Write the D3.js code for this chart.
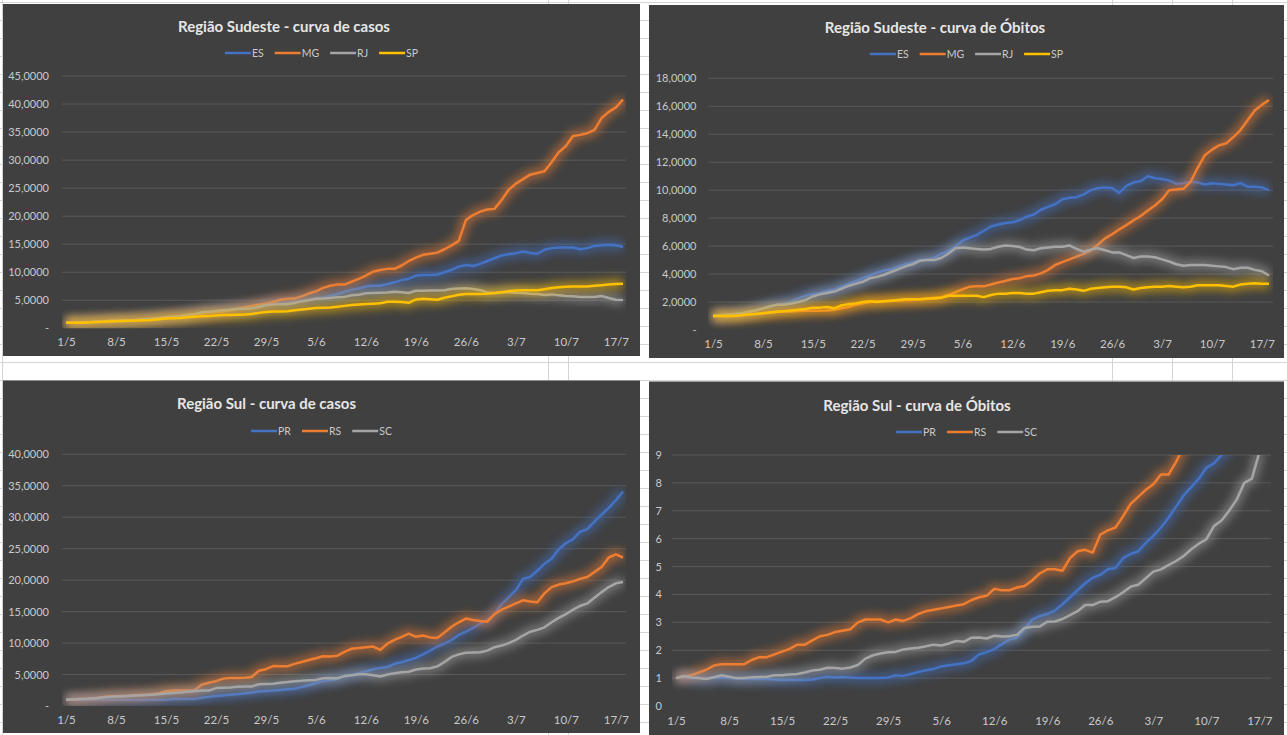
<!DOCTYPE html>
<html>
<head>
<meta charset="utf-8">
<title>Regiões Sudeste e Sul - curvas</title>
<script src="https://cdnjs.cloudflare.com/ajax/libs/d3/7.8.5/d3.min.js"></script>
<style>
  body { margin: 0; background: #ffffff; }
  svg { display: block; font-family: Lato, "Noto Sans", sans-serif; }
</style>
</head>
<body>
<svg id="sheet" width="1287" height="735"></svg>
<script>
// categories: one point per day, 1/5 to 18/7
const dayLabels = d3.timeDay.range(new Date(2020, 4, 1), new Date(2020, 6, 19))
  .map(d => `${d.getDate()}/${d.getMonth() + 1}`);
const xTickLabels = ["1/5", "8/5", "15/5", "22/5", "29/5", "5/6", "12/6", "19/6", "26/6", "3/7", "10/7", "17/7"];

const sudesteStates = ["ES", "MG", "RJ", "SP"];
const sulStates = ["PR", "RS", "SC"];

const sudesteCasosTicks = [0, 5, 10, 15, 20, 25, 30, 35, 40, 45];
const sudesteObitosTicks = [0, 2, 4, 6, 8, 10, 12, 14, 16, 18];
const sulCasosTicks = [0, 5, 10, 15, 20, 25, 30, 35, 40];
const sulObitosTicks = [0, 1, 2, 3, 4, 5, 6, 7, 8, 9];

// Região Sudeste - casos (índice relativo a 1/5)
const sudesteCasosES = [1.0,1.0,1.05,1.1,1.15,1.2,1.25,1.3,1.35,1.45,
  1.55,1.65,1.75,1.85,1.95,2.05,2.2,2.35,2.5,2.7,
  2.85,3.0,3.15,3.3,3.45,3.55,3.7,3.9,4.1,4.3,
  4.5,4.6,4.75,4.95,5.15,5.35,5.5,5.75,6.1,6.5,
  6.9,7.1,7.45,7.6,7.6,7.9,8.2,8.6,8.85,9.4,
  9.5,9.5,9.6,10.0,10.4,11.0,11.3,11.1,11.5,12.0,
  12.5,13.0,13.2,13.4,13.7,13.45,13.3,14.0,14.3,14.4,
  14.4,14.4,14.1,14.3,14.7,14.8,14.9,14.8,14.5];
const sudesteCasosMG = [1.0,1.0,1.05,1.1,1.15,1.2,1.3,1.35,1.4,1.45,
  1.5,1.6,1.7,1.8,1.95,2.1,2.2,2.3,2.45,2.6,
  2.8,2.9,3.0,3.2,3.5,3.7,4.0,4.2,4.4,4.7,
  5.1,5.25,5.3,5.7,6.2,6.6,7.2,7.6,7.8,7.8,
  8.3,8.8,9.4,10.1,10.4,10.6,10.6,11.2,12.0,12.6,
  13.1,13.3,13.5,14.1,14.8,15.6,19.3,20.2,20.8,21.2,
  21.3,22.9,24.7,25.8,26.6,27.4,27.7,28.0,29.6,31.4,
  32.5,34.3,34.5,34.8,35.4,37.5,38.6,39.4,40.8];
const sudesteCasosRJ = [1.0,1.0,1.05,1.1,1.15,1.2,1.3,1.35,1.4,1.45,
  1.5,1.6,1.7,1.85,1.95,2.05,2.15,2.4,2.5,2.85,
  2.95,3.1,3.2,3.3,3.45,3.5,3.55,3.8,4.15,4.25,
  4.3,4.3,4.5,4.8,5.0,5.25,5.3,5.4,5.55,5.6,
  5.9,6.0,6.25,6.3,6.35,6.4,6.5,6.45,6.3,6.7,
  6.7,6.75,6.75,6.8,7.0,7.1,7.15,7.0,6.8,6.4,
  6.3,6.4,6.45,6.35,6.3,6.15,6.1,5.95,6.05,5.9,
  5.75,5.7,5.6,5.6,5.6,5.75,5.4,5.1,5.05];
const sudesteCasosSP = [1.0,1.0,1.0,1.05,1.1,1.15,1.2,1.25,1.3,1.35,
  1.4,1.45,1.5,1.6,1.75,1.8,1.85,1.95,2.05,2.15,
  2.2,2.3,2.35,2.35,2.4,2.45,2.55,2.75,2.9,3.0,
  3.0,3.05,3.2,3.35,3.5,3.6,3.65,3.7,3.85,4.0,
  4.15,4.25,4.35,4.4,4.45,4.75,4.75,4.7,4.55,5.15,
  5.25,5.2,5.1,5.45,5.7,6.0,6.1,6.1,6.1,6.15,
  6.3,6.45,6.6,6.75,6.8,6.8,6.8,6.95,7.2,7.3,
  7.4,7.45,7.45,7.45,7.6,7.7,7.8,7.9,7.95];

// Região Sudeste - óbitos
const sudesteObitosES = [1.0,1.05,1.1,1.15,1.2,1.3,1.4,1.55,1.65,1.8,
  1.9,2.05,2.25,2.45,2.55,2.65,2.8,2.9,3.1,3.3,
  3.5,3.7,3.9,4.1,4.25,4.35,4.55,4.7,4.85,5.0,
  5.05,5.15,5.45,5.65,5.95,6.4,6.6,6.8,7.1,7.4,
  7.55,7.65,7.7,7.85,8.1,8.25,8.6,8.8,9.0,9.35,
  9.45,9.5,9.7,10.0,10.15,10.2,10.15,9.8,10.3,10.55,
  10.65,11.0,10.85,10.8,10.7,10.45,10.5,10.6,10.55,10.4,
  10.5,10.45,10.4,10.35,10.5,10.25,10.25,10.2,10.0];
const sudesteObitosMG = [1.0,1.0,0.98,1.0,1.05,1.1,1.15,1.2,1.25,1.3,
  1.3,1.33,1.35,1.38,1.38,1.38,1.4,1.45,1.55,1.65,
  1.8,1.9,2.0,2.05,2.05,2.1,2.1,2.12,2.15,2.18,
  2.22,2.3,2.35,2.5,2.7,2.9,3.1,3.12,3.12,3.25,
  3.4,3.5,3.65,3.7,3.85,3.9,4.05,4.3,4.65,4.85,
  5.05,5.25,5.45,5.7,6.1,6.55,6.85,7.2,7.5,7.85,
  8.15,8.55,8.9,9.35,10.0,10.05,10.1,10.6,11.6,12.5,
  12.9,13.2,13.35,13.8,14.3,15.0,15.7,16.1,16.45];
const sudesteObitosRJ = [1.0,1.05,1.1,1.15,1.2,1.3,1.4,1.55,1.7,1.8,
  1.8,1.9,2.0,2.15,2.4,2.55,2.65,2.75,2.95,3.15,
  3.3,3.45,3.7,3.8,3.95,4.15,4.35,4.55,4.7,4.95,
  5.0,5.0,5.15,5.45,5.85,5.9,5.85,5.8,5.75,5.8,
  5.95,6.05,6.0,5.95,5.75,5.7,5.85,5.9,5.95,5.95,
  6.05,5.8,5.6,5.75,5.85,5.7,5.55,5.55,5.35,5.15,
  5.25,5.25,5.2,5.05,4.9,4.7,4.6,4.65,4.65,4.65,
  4.6,4.55,4.5,4.35,4.45,4.45,4.3,4.2,3.9];
const sudesteObitosSP = [1.0,1.0,1.0,1.0,1.05,1.1,1.15,1.2,1.25,1.3,
  1.35,1.4,1.45,1.5,1.6,1.6,1.65,1.55,1.75,1.85,
  1.9,2.0,2.05,2.0,2.05,2.1,2.15,2.2,2.2,2.2,
  2.25,2.25,2.3,2.45,2.45,2.45,2.45,2.45,2.35,2.5,
  2.6,2.6,2.65,2.65,2.6,2.6,2.7,2.8,2.85,2.85,
  2.95,2.9,2.8,2.95,3.0,3.05,3.1,3.1,3.05,2.9,
  3.0,3.05,3.1,3.1,3.15,3.1,3.05,3.1,3.2,3.2,
  3.2,3.2,3.15,3.1,3.25,3.3,3.35,3.3,3.3];

// Região Sul - casos
const sulCasosPR = [1.0,1.0,1.0,1.0,1.0,1.0,1.0,1.0,1.0,1.0,
  0.95,0.95,1.0,1.0,1.0,1.1,1.1,1.1,1.1,1.3,
  1.45,1.6,1.65,1.8,1.85,2.0,2.15,2.3,2.4,2.45,
  2.55,2.65,2.75,3.0,3.3,3.65,3.95,4.1,4.3,4.7,
  4.95,5.2,5.5,5.85,6.05,6.2,6.7,6.95,7.3,7.65,
  8.2,8.8,9.45,9.9,10.5,11.3,11.8,12.4,13.1,13.6,
  14.6,16.2,17.3,18.4,20.2,20.5,21.5,22.6,23.4,24.9,
  25.9,26.5,27.7,28.1,29.3,30.4,31.5,32.7,34.1];
const sulCasosRS = [1.0,1.05,1.1,1.15,1.25,1.4,1.5,1.55,1.6,1.65,
  1.75,1.8,1.85,2.0,2.35,2.45,2.45,2.45,2.5,3.4,
  3.7,3.95,4.35,4.45,4.45,4.5,4.6,5.6,5.85,6.35,
  6.3,6.3,6.7,7.0,7.3,7.6,7.9,7.85,8.0,8.6,
  9.1,9.2,9.35,9.45,8.9,9.9,10.5,11.0,11.5,11.0,
  11.2,10.9,10.8,11.7,12.6,13.3,13.9,13.65,13.5,13.4,
  14.6,15.3,15.8,16.3,16.8,16.6,16.5,17.9,18.9,19.3,
  19.5,19.8,20.2,20.5,21.3,22.1,23.6,24.1,23.6];
const sulCasosSC = [1.0,1.05,1.1,1.15,1.25,1.35,1.45,1.5,1.55,1.6,
  1.65,1.7,1.8,1.85,2.0,2.05,2.15,2.25,2.35,2.45,
  2.45,2.85,2.9,2.95,3.05,3.1,3.1,3.45,3.5,3.55,
  3.7,3.8,3.95,4.0,4.1,4.15,4.4,4.45,4.4,4.75,
  4.9,5.05,5.05,4.9,4.7,5.0,5.2,5.35,5.45,5.8,
  5.95,6.0,6.3,7.0,7.8,8.2,8.45,8.5,8.55,8.8,
  9.35,9.6,10.0,10.5,11.2,11.8,12.1,12.5,13.3,14.0,
  14.6,15.3,15.9,16.3,17.2,18.1,18.9,19.5,19.7];

// Região Sul - óbitos (eixo vai só até 9; as séries param ao sair do gráfico)
const sulObitosPR = [1.0,1.0,1.0,1.0,1.0,1.0,1.02,1.0,0.98,0.98,
  0.97,0.97,0.97,0.95,0.93,0.93,0.93,0.93,0.95,1.0,
  1.05,1.02,1.04,1.02,1.0,1.0,1.0,1.0,1.02,1.1,
  1.08,1.15,1.22,1.28,1.33,1.42,1.46,1.5,1.53,1.62,
  1.85,1.93,2.04,2.22,2.38,2.45,2.75,3.1,3.23,3.3,
  3.42,3.65,3.9,4.15,4.4,4.6,4.7,4.9,4.95,5.3,
  5.45,5.55,5.85,6.1,6.4,6.75,7.15,7.55,7.85,8.15,
  8.55,8.7,9.0,9.2];
const sulObitosRS = [1.0,1.05,1.1,1.2,1.3,1.45,1.5,1.5,1.5,1.5,
  1.65,1.75,1.75,1.85,1.95,2.05,2.2,2.2,2.35,2.5,
  2.55,2.65,2.7,2.75,3.0,3.1,3.1,3.1,3.0,3.1,
  3.05,3.15,3.3,3.4,3.45,3.5,3.55,3.6,3.65,3.8,
  3.9,3.95,4.2,4.15,4.15,4.25,4.3,4.5,4.75,4.9,
  4.9,4.85,5.3,5.55,5.6,5.5,6.15,6.3,6.4,6.8,
  7.25,7.5,7.75,7.95,8.3,8.3,8.75,9.3];
const sulObitosSC = [1.0,1.08,1.02,1.0,0.97,1.03,1.1,1.05,1.0,1.0,
  1.03,1.04,1.05,1.1,1.1,1.13,1.15,1.2,1.27,1.3,
  1.37,1.36,1.34,1.38,1.47,1.7,1.82,1.88,1.93,1.94,
  2.03,2.06,2.09,2.14,2.2,2.17,2.24,2.33,2.3,2.45,
  2.46,2.42,2.52,2.49,2.5,2.55,2.8,2.84,2.85,3.02,
  3.03,3.12,3.26,3.4,3.62,3.62,3.74,3.76,3.9,4.08,
  4.28,4.35,4.58,4.82,4.9,5.05,5.2,5.38,5.62,5.82,
  5.98,6.45,6.65,7.0,7.4,8.0,8.15,9.1];

const stateColor = { ES: "#4472C4", MG: "#ED7D31", RJ: "#A5A5A5", SP: "#FFC000",
                     PR: "#4472C4", RS: "#ED7D31", SC: "#A5A5A5" };

const fmtDecimal = d => d === 0 ? "-" : d3.format(".4f")(d).replace(".", ",");
const fmtInt = d => String(d);

const charts = [
  { title: "Região Sudeste - curva de casos", box: [3, 4, 637, 352], titleX: 284, titleY: 32, legendY: 53,
    xRange: [66, 623], grid: [62, 626], yRange: [328.3, 76], ticks: sudesteCasosTicks,
    yLabelX: 49, anchor: "end", xLabelY: 342, fmt: fmtDecimal,
    names: sudesteStates, series: [sudesteCasosES, sudesteCasosMG, sudesteCasosRJ, sudesteCasosSP] },
  { title: "Região Sudeste - curva de Óbitos", box: [649, 5, 635, 353], titleX: 935, titleY: 33, legendY: 54,
    xRange: [713, 1269], grid: [708, 1273], yRange: [330, 78.3], ticks: sudesteObitosTicks,
    yLabelX: 696.5, anchor: "end", xLabelY: 343.5, fmt: fmtDecimal,
    names: sudesteStates, series: [sudesteObitosES, sudesteObitosMG, sudesteObitosRJ, sudesteObitosSP] },
  { title: "Região Sul - curva de casos", box: [3, 380.5, 637, 352.5], titleX: 266.5, titleY: 409, legendY: 431,
    xRange: [66, 623], grid: [62, 626], yRange: [706, 454.3], ticks: sulCasosTicks,
    yLabelX: 49, anchor: "end", xLabelY: 719.5, fmt: fmtDecimal,
    names: sulStates, series: [sulCasosPR, sulCasosRS, sulCasosSC] },
  { title: "Região Sul - curva de Óbitos", box: [649, 381.5, 635, 360], titleX: 917, titleY: 411, legendY: 432,
    xRange: [676, 1267], grid: [672, 1271], yRange: [706, 455], ticks: sulObitosTicks,
    yLabelX: 658.6, anchor: "middle", xLabelY: 721, fmt: fmtInt,
    names: sulStates, series: [sulObitosPR, sulObitosRS, sulObitosSC] }
];

const svg = d3.select("#sheet");
const W = 1287, H = 735;

// spreadsheet behind the charts
svg.append("rect").attr("width", W).attr("height", H).attr("fill", "#ffffff");
const sheet = svg.append("g").attr("stroke", "#d4d4d4").attr("stroke-width", 1);
d3.range(2, H, 18).forEach(y => sheet.append("line")
  .attr("x1", 0).attr("x2", W).attr("y1", y + 0.5).attr("y2", y + 0.5));
[2, 548, 568, 1112, 1172, 1232].forEach(x => sheet.append("line")
  .attr("x1", x + 0.5).attr("x2", x + 0.5).attr("y1", 0).attr("y2", H));

const defs = svg.append("defs");
defs.append("filter").attr("id", "glow")
  .attr("filterUnits", "userSpaceOnUse").attr("x", 0).attr("y", 0).attr("width", W).attr("height", H)
  .append("feGaussianBlur").attr("stdDeviation", 4);

charts.forEach((c, ci) => {
  const [bx, by, bw, bh] = c.box;
  const g = svg.append("g");
  g.append("rect").attr("x", bx).attr("y", by).attr("width", bw).attr("height", bh).attr("fill", "#404040");

  const x = d3.scalePoint().domain(dayLabels).range(c.xRange);
  const y = d3.scaleLinear().domain([0, d3.max(c.ticks)]).range(c.yRange);

  // gridlines
  g.append("g").selectAll("line").data(c.ticks.filter(t => t > 0)).join("line")
    .attr("x1", c.grid[0]).attr("x2", c.grid[1])
    .attr("y1", d => y(d)).attr("y2", d => y(d))
    .attr("stroke", "#595959").attr("stroke-width", 1);

  // y axis labels
  const ya = g.append("g").attr("transform", `translate(${c.yLabelX},0)`)
    .call(d3.axisLeft(y).tickValues(c.ticks).tickSize(0).tickPadding(0).tickFormat(c.fmt));
  ya.select(".domain").remove();
  ya.selectAll("text").attr("fill", "#c9c9c9").attr("font-size", 11)
    .attr("font-family", "Lato, sans-serif").attr("text-anchor", c.anchor);

  // x axis labels
  const xa = g.append("g").attr("transform", `translate(0,${c.xLabelY})`)
    .call(d3.axisBottom(x).tickValues(xTickLabels).tickSize(0).tickPadding(0));
  xa.select(".domain").remove();
  xa.selectAll("text").attr("y", 0).attr("dy", "0.35em").attr("fill", "#c9c9c9")
    .attr("font-size", 11.5).attr("font-family", "Lato, sans-serif");

  // title
  g.append("text").attr("x", c.titleX).attr("y", c.titleY).attr("text-anchor", "middle")
    .attr("font-size", 15).attr("font-weight", 700).attr("fill", "#e6e6e6").text(c.title);

  // legend, centred in the chart
  const lg = g.append("g");
  let lx = 0;
  c.names.forEach(n => {
    lg.append("line").attr("x1", lx).attr("x2", lx + 26).attr("y1", 0).attr("y2", 0)
      .attr("stroke", stateColor[n]).attr("stroke-width", 2.5);
    const t = lg.append("text").attr("x", lx + 27).attr("y", 0).attr("dy", "0.35em")
      .attr("font-size", 10.5).attr("fill", "#c9c9c9").text(n);
    lx += 27 + t.node().getComputedTextLength() + 11;
  });
  lx -= 11;
  lg.attr("transform", `translate(${bx + bw / 2 - lx / 2},${c.legendY})`);

  // lines with glow, clipped to plot area
  const clipId = "clip" + ci;
  defs.append("clipPath").attr("id", clipId).append("rect")
    .attr("x", c.grid[0]).attr("y", c.yRange[1])
    .attr("width", c.grid[1] - c.grid[0]).attr("height", c.yRange[0] - c.yRange[1]);
  const plot = g.append("g").attr("clip-path", `url(#${clipId})`);
  const line = d3.line().x((d, i) => x(dayLabels[i])).y(d => y(d));
  c.series.forEach((s, si) => {
    const col = stateColor[c.names[si]];
    plot.append("path").attr("d", line(s)).attr("fill", "none")
      .attr("stroke", col).attr("stroke-width", 11).attr("stroke-opacity", 0.5)
      .attr("stroke-linejoin", "round").attr("filter", "url(#glow)");
    plot.append("path").attr("d", line(s)).attr("fill", "none")
      .attr("stroke", col).attr("stroke-width", 2.5).attr("stroke-linejoin", "round");
  });
});
</script>
</body>
</html>
